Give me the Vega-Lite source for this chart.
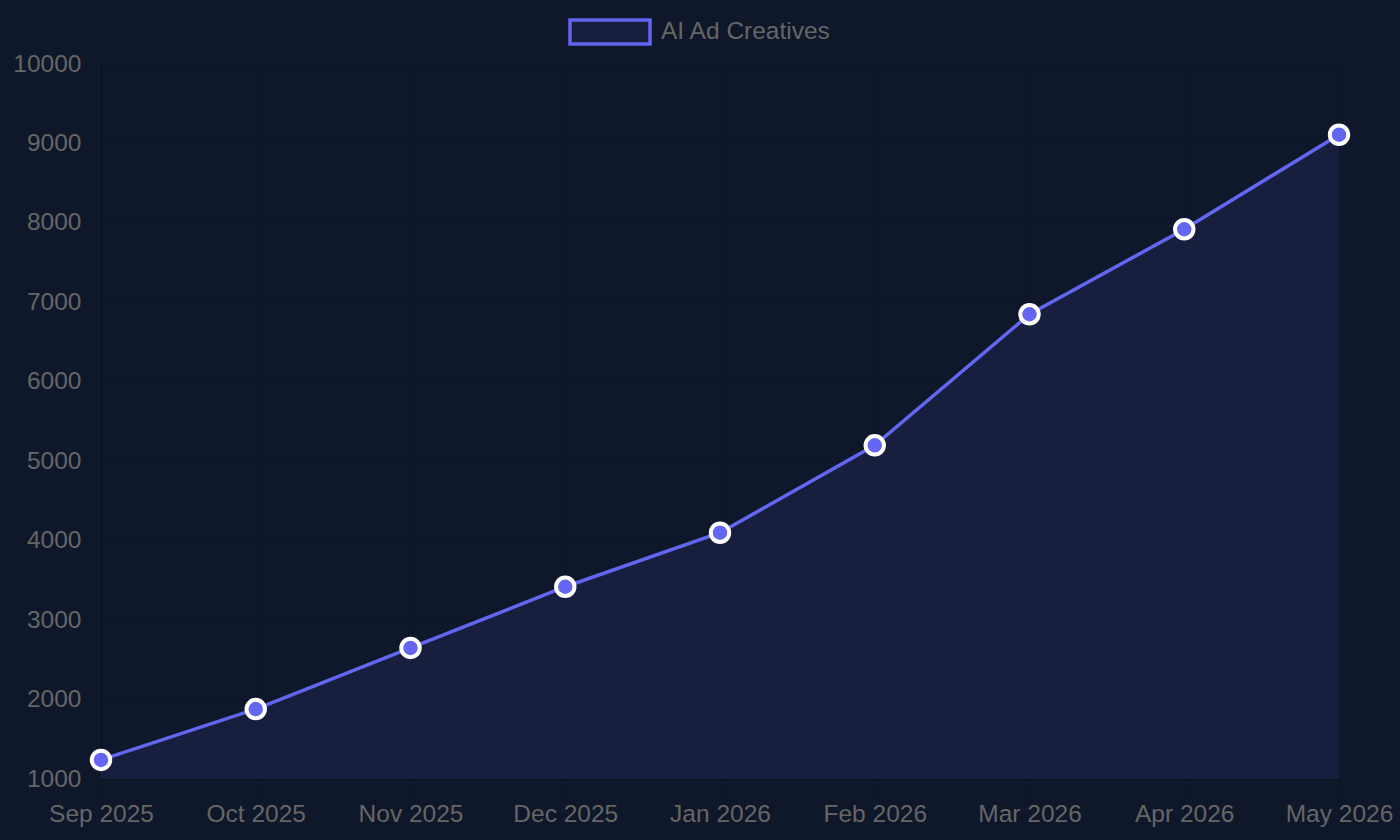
{
  "$schema": "https://vega.github.io/schema/vega-lite/v6.json",
  "background": "#0f172a",
  "width": 1238,
  "height": 715,
  "autosize": {"type": "none"},
  "padding": {"left": 101, "top": 64, "right": 61, "bottom": 61},
  "data": {
    "values": [
      {"month": "Sep 2025", "creatives": 1240, "series": "AI Ad Creatives"},
      {"month": "Oct 2025", "creatives": 1880, "series": "AI Ad Creatives"},
      {"month": "Nov 2025", "creatives": 2650, "series": "AI Ad Creatives"},
      {"month": "Dec 2025", "creatives": 3420, "series": "AI Ad Creatives"},
      {"month": "Jan 2026", "creatives": 4100, "series": "AI Ad Creatives"},
      {"month": "Feb 2026", "creatives": 5200, "series": "AI Ad Creatives"},
      {"month": "Mar 2026", "creatives": 6850, "series": "AI Ad Creatives"},
      {"month": "Apr 2026", "creatives": 7920, "series": "AI Ad Creatives"},
      {"month": "May 2026", "creatives": 9110, "series": "AI Ad Creatives"}
    ]
  },
  "encoding": {
    "x": {
      "field": "month",
      "type": "ordinal",
      "sort": null,
      "scale": {"type": "point", "padding": 0},
      "axis": {
        "title": null,
        "labelAngle": 0,
        "grid": true,
        "tickSize": 18,
        "labelPadding": 5
      }
    },
    "y": {
      "field": "creatives",
      "type": "quantitative",
      "scale": {"domain": [1000, 10000], "zero": false, "nice": false},
      "axis": {
        "title": null,
        "values": [1000, 2000, 3000, 4000, 5000, 6000, 7000, 8000, 9000, 10000],
        "format": "d",
        "tickSize": 8,
        "labelPadding": 12
      }
    }
  },
  "layer": [
    {
      "mark": {"type": "area", "color": "#181e3e", "opacity": 1},
      "encoding": {"y2": {"datum": 1000}}
    },
    {
      "mark": {"type": "line", "strokeWidth": 3.5},
      "encoding": {
        "color": {
          "field": "series",
          "type": "nominal",
          "scale": {"range": ["#6366f1"]},
          "legend": {
            "title": null,
            "orient": "none",
            "legendX": 467,
            "legendY": -74,
            "padding": 0,
            "symbolType": "M-1,-0.3H1V0.3H-1Z",
            "symbolSize": 6400,
            "labelOffset": 9,
            "labelLimit": 400,
            "labelFontSize": 24.5,
            "labelColor": "#666666",
            "labelFont": "Liberation Sans",
            "encode": {
              "symbols": {
                "update": {
                  "fill": {"value": "#181e3e"},
                  "stroke": {"value": "#6366f1"},
                  "strokeWidth": {"value": 3.5},
                  "opacity": {"value": 1}
                }
              }
            }
          }
        }
      }
    },
    {
      "mark": {
        "type": "point",
        "shape": "circle",
        "filled": true,
        "size": 340,
        "fill": "#6366f1",
        "stroke": "#ffffff",
        "strokeWidth": 4,
        "opacity": 1
      }
    }
  ],
  "config": {
    "view": {"stroke": null},
    "font": "Liberation Sans",
    "axis": {
      "labelFont": "Liberation Sans",
      "labelFontSize": 24.5,
      "labelColor": "#666666",
      "gridColor": "#000000",
      "gridOpacity": 0.1,
      "tickColor": "rgba(0,0,0,0.1)",
      "domainColor": "rgba(0,0,0,0.25)",
      "domainWidth": 1,
      "gridWidth": 1
    }
  }
}
